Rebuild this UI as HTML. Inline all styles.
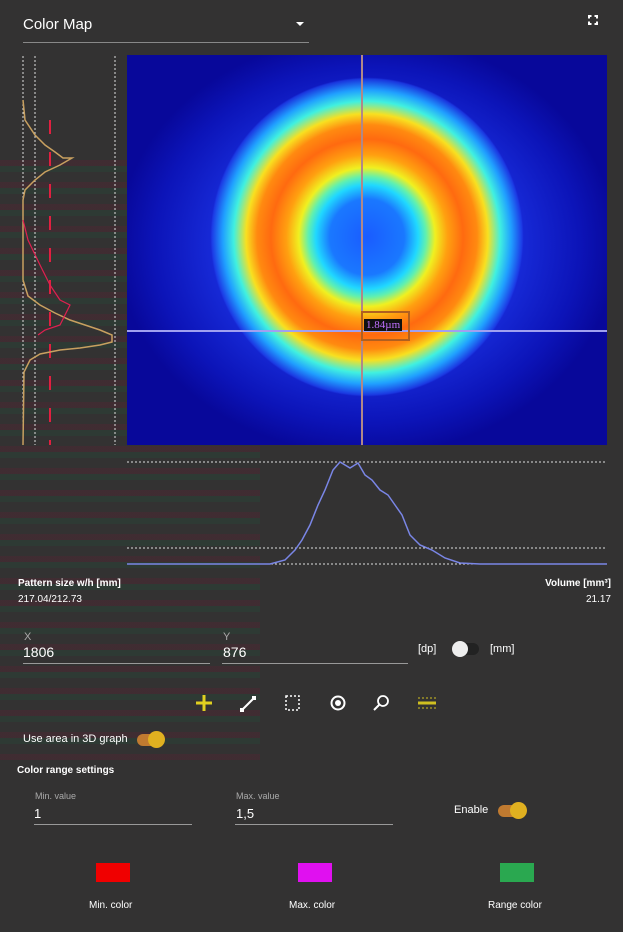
<!DOCTYPE html>
<html><head><style>
body{margin:0;width:623px;height:932px;background:#333232;font-family:"Liberation Sans",sans-serif;color:#fff;position:relative;overflow:hidden}
.a{position:absolute}
.noise{position:absolute;left:0;top:160px;width:260px;height:600px;opacity:.3;background:repeating-linear-gradient(180deg,rgba(120,20,50,.6) 0 6px,rgba(20,100,60,.5) 6px 12px,transparent 12px 22px)}
.lbl{font-size:11px;color:#aaa}
.val{font-size:14px}
.line{height:1px;background:#999}
</style></head><body>
<div class="noise"></div>
<div class="a" style="left:23px;top:16px;font-size:15px">Color Map</div>
<div class="a" style="left:296px;top:22px;width:0;height:0;border-left:4px solid transparent;border-right:4px solid transparent;border-top:4px solid #fff"></div>
<div class="a line" style="left:23px;top:42px;width:286px;background:#888"></div>
<div class="a" style="left:588px;top:15px;width:10px;height:10px;border:2px solid #fff;box-sizing:border-box;clip-path:polygon(0 0,35% 0,35% 100%,0 100%,0 65%,100% 65%,100% 100%,65% 100%,65% 0,100% 0,100% 35%,0 35%)"></div>

<svg class="a" style="left:0;top:0" width="623" height="932">
<line x1="23" y1="56" x2="23" y2="445" stroke="#ddd" stroke-dasharray="2,2"/>
<line x1="35" y1="56" x2="35" y2="445" stroke="#ddd" stroke-dasharray="2,2"/>
<line x1="115" y1="56" x2="115" y2="445" stroke="#ddd" stroke-dasharray="2,2"/>
<line x1="50" y1="120" x2="50" y2="445" stroke="#e02040" stroke-width="2" stroke-dasharray="14,18"/>
<polyline fill="none" stroke="#c8a060" stroke-width="1.5" points="23,100 25,120 35,135 45,145 55,152 63,158 72,158 60,165 45,172 35,180 25,190 23,200 23,280 28,296 40,305 55,313 70,320 85,325 100,330 112,335 112,342 100,345 80,348 60,350 40,354 30,360 24,372 23,445"/>
<polyline fill="none" stroke="#e02050" stroke-width="1.2" points="23,220 28,240 40,265 50,285 60,300 70,305 60,325 45,330 38,335"/>
<line x1="127" y1="462" x2="607" y2="462" stroke="#ddd" stroke-dasharray="2,2"/>
<line x1="127" y1="548" x2="607" y2="548" stroke="#ddd" stroke-dasharray="2,2"/>
<line x1="127" y1="564" x2="607" y2="564" stroke="#ddd" stroke-dasharray="2,2"/>
<polyline fill="none" stroke="#7a86e6" stroke-width="1.5" points="127,564 270,564 285,560 295,550 302,540 310,525 318,505 325,490 333,470 340,462 350,468 358,463 365,475 372,480 380,490 388,495 395,505 402,515 410,535 420,545 432,550 445,558 460,563 480,564 607,564"/>
</svg>

<div class="a" style="left:127px;top:55px;width:480px;height:390px;background:
radial-gradient(ellipse 155px 158px at 240px 182px,#1a5cff 0%,#1a78ff 24%,#20d8ff 33%,#60f0b0 38%,#f0f020 44%,#ffa010 52%,#ff6a10 62%,#ff8a10 71%,#f8e020 78%,#40f0e0 86%,#20a0ff 93%,rgba(32,72,240,0.6) 100%,rgba(32,72,240,0) 101%),
radial-gradient(ellipse 250px 210px at 240px 190px,#1a40f0 0%,#1a30e0 55%,#0c14b8 85%,#08089a 100%)"></div>
<div class="a" style="left:361px;top:55px;width:2px;height:390px;background:#b08888"></div>
<div class="a" style="left:127px;top:330px;width:480px;height:2px;background:#a0a0f0"></div>
<div class="a" style="left:361px;top:311px;width:49px;height:30px;border:2px solid #b06020;box-sizing:border-box"></div>
<div class="a" style="left:364px;top:319px;background:#111;color:#c070ff;font-size:11px;font-family:'Liberation Serif',serif;padding:0 2px">1.84µm</div>

<div class="a" style="left:18px;top:578px;font-size:10px;font-weight:bold">Pattern size w/h [mm]</div>
<div class="a" style="left:18px;top:594px;font-size:10px">217.04/212.73</div>
<div class="a" style="right:12px;top:578px;font-size:10px;font-weight:bold">Volume [mm³]</div>
<div class="a" style="right:12px;top:594px;font-size:10px">21.17</div>

<div class="a lbl" style="left:24px;top:631px">X</div>
<div class="a val" style="left:23px;top:644px">1806</div>
<div class="a line" style="left:23px;top:663px;width:187px"></div>
<div class="a lbl" style="left:223px;top:631px">Y</div>
<div class="a val" style="left:223px;top:644px">876</div>
<div class="a line" style="left:222px;top:663px;width:186px"></div>
<div class="a" style="left:418px;top:643px;font-size:11px">[dp]</div>
<div class="a" style="left:455px;top:643px;width:24px;height:12px;border-radius:6px;background:#222"></div>
<div class="a" style="left:452px;top:641px;width:16px;height:16px;border-radius:8px;background:#eee"></div>
<div class="a" style="left:490px;top:643px;font-size:11px">[mm]</div>

<svg class="a" style="left:190px;top:690px" width="260" height="28">
<path d="M14 5v16M6 13h16" stroke="#e0d020" stroke-width="3"/>
<path d="M52 20L64 8" stroke="#fff" stroke-width="2"/><rect x="50" y="18" width="4" height="4" fill="#fff"/><rect x="62" y="6" width="4" height="4" fill="#fff"/>
<rect x="96" y="6" width="13" height="14" fill="none" stroke="#fff" stroke-width="1.5" stroke-dasharray="2,2"/>
<circle cx="148" cy="13" r="6.5" fill="none" stroke="#fff" stroke-width="2"/><circle cx="148" cy="13" r="3" fill="#fff"/>
<circle cx="193" cy="11" r="5" fill="none" stroke="#fff" stroke-width="1.8"/><path d="M189 15l-5 5" stroke="#fff" stroke-width="2"/>
<path d="M228 13h18" stroke="#d0c020" stroke-width="3"/><path d="M228 8h18M228 18h18" stroke="#d0c020" stroke-width="1" stroke-dasharray="2,2"/>
</svg>

<div class="a" style="left:23px;top:733px;font-size:11px">Use area in 3D graph</div>
<div class="a" style="left:137px;top:734px;width:24px;height:12px;border-radius:6px;background:#c07a30"></div>
<div class="a" style="left:148px;top:731px;width:17px;height:17px;border-radius:9px;background:#e0b020"></div>
<div class="a" style="left:17px;top:765px;font-size:10px;font-weight:bold">Color range settings</div>

<div class="a lbl" style="left:35px;top:791px;font-size:9px">Min. value</div>
<div class="a val" style="left:34px;top:806px;font-size:13px">1</div>
<div class="a line" style="left:34px;top:824px;width:158px"></div>
<div class="a lbl" style="left:236px;top:791px;font-size:9px">Max. value</div>
<div class="a val" style="left:236px;top:806px;font-size:13px">1,5</div>
<div class="a line" style="left:235px;top:824px;width:158px"></div>
<div class="a" style="left:454px;top:804px;font-size:11px">Enable</div>
<div class="a" style="left:498px;top:805px;width:24px;height:12px;border-radius:6px;background:#c07a30"></div>
<div class="a" style="left:510px;top:802px;width:17px;height:17px;border-radius:9px;background:#e0b020"></div>

<div class="a" style="left:96px;top:863px;width:34px;height:19px;background:#f00000"></div>
<div class="a" style="left:298px;top:863px;width:34px;height:19px;background:#e010f0"></div>
<div class="a" style="left:500px;top:863px;width:34px;height:19px;background:#2aa850"></div>
<div class="a" style="left:89px;top:900px;font-size:10px">Min. color</div>
<div class="a" style="left:289px;top:900px;font-size:10px">Max. color</div>
<div class="a" style="left:488px;top:900px;font-size:10px">Range color</div>
</body></html>
